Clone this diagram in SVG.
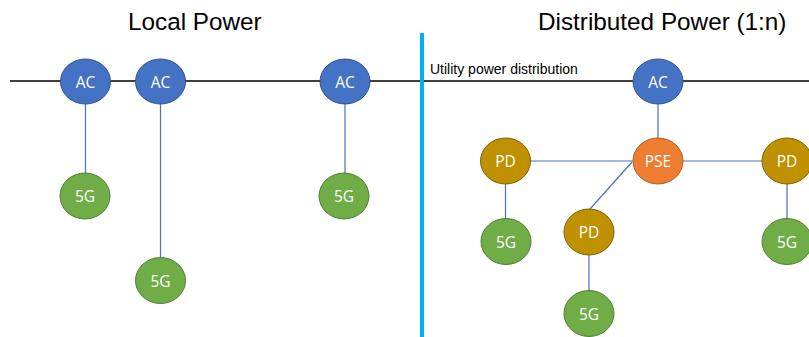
<svg xmlns="http://www.w3.org/2000/svg" width="809" height="337" viewBox="0 0 809 337">
<style>
.title{font-family:"Liberation Sans",Arial,sans-serif;font-size:24.3px;fill:#000}
.lbl{font-family:"Liberation Sans",Arial,sans-serif;font-size:14px;fill:#000}
.nt{font-family:"Open Sans","Noto Sans",sans-serif;font-size:15.5px;fill:#fff;text-anchor:middle;dominant-baseline:central}
.ac{fill:#4472c4;stroke:#2f528f;stroke-width:1}
.g5{fill:#70ad47;stroke:#507e32;stroke-width:1}
.pd{fill:#bf9000;stroke:#7f6000;stroke-width:1}
.pse{fill:#ed7d31;stroke:#ae5a21;stroke-width:1}
.c{stroke:#4472c4;stroke-width:1.2;fill:none}
</style>
<rect width="809" height="337" fill="#fff"/>
<text class="title" x="128" y="29.5">Local Power</text>
<text class="title" x="538" y="29.5">Distributed Power (1:n)</text>
<line x1="10" y1="81" x2="809" y2="81" stroke="#000" stroke-width="1.5"/>
<line x1="422" y1="33" x2="422" y2="337" stroke="#00b0f0" stroke-width="4"/>
<text class="lbl" x="430" y="73.5">Utility power distribution</text>
<g id="connectors">
<line class="c" x1="85.5" y1="104" x2="85.5" y2="173"/>
<line class="c" x1="160.5" y1="104" x2="160.5" y2="258"/>
<line class="c" x1="345" y1="104" x2="345" y2="173"/>
<line class="c" x1="658" y1="104" x2="658" y2="138"/>
<line class="c" x1="530" y1="161" x2="633" y2="161"/>
<line class="c" x1="683" y1="161" x2="762" y2="161"/>
<line class="c" x1="632" y1="162" x2="590" y2="209"/>
<line class="c" x1="505.5" y1="184" x2="505.5" y2="219"/>
<line class="c" x1="589" y1="255" x2="589" y2="291"/>
<line class="c" x1="787" y1="184" x2="787" y2="219"/>
</g>
<g id="ac1"><ellipse class="ac" cx="85.5" cy="81.5" rx="25" ry="22.5"/><text class="nt" x="85.5" y="81.5">AC</text></g>
<g id="ac2"><ellipse class="ac" cx="160.5" cy="81.5" rx="25" ry="22.5"/><text class="nt" x="160.5" y="81.5">AC</text></g>
<g id="ac3"><ellipse class="ac" cx="345" cy="81.5" rx="25" ry="22.5"/><text class="nt" x="345" y="81.5">AC</text></g>
<g id="ac4"><ellipse class="ac" cx="658" cy="81.5" rx="25" ry="22.5"/><text class="nt" x="658" y="81.5">AC</text></g>
<g id="g5a"><ellipse class="g5" cx="85" cy="196" rx="25" ry="23"/><text class="nt" x="85" y="196">5G</text></g>
<g id="g5b"><ellipse class="g5" cx="160.5" cy="280.5" rx="25" ry="23"/><text class="nt" x="160.5" y="280.5">5G</text></g>
<g id="g5c"><ellipse class="g5" cx="344" cy="196" rx="25" ry="23"/><text class="nt" x="344" y="196">5G</text></g>
<g id="pse"><ellipse class="pse" cx="658" cy="161" rx="25" ry="23"/><text class="nt" x="658" y="161">PSE</text></g>
<g id="pd1"><ellipse class="pd" cx="505.5" cy="161" rx="25" ry="23"/><text class="nt" x="505.5" y="161">PD</text></g>
<g id="pd2"><ellipse class="pd" cx="589" cy="232" rx="25" ry="23"/><text class="nt" x="589" y="232">PD</text></g>
<g id="pd3"><ellipse class="pd" cx="787" cy="161" rx="25" ry="23"/><text class="nt" x="787" y="161">PD</text></g>
<g id="g5d"><ellipse class="g5" cx="506" cy="241.5" rx="25" ry="23"/><text class="nt" x="506" y="241.5">5G</text></g>
<g id="g5e"><ellipse class="g5" cx="589" cy="313.5" rx="25" ry="23"/><text class="nt" x="589" y="313.5">5G</text></g>
<g id="g5f"><ellipse class="g5" cx="787" cy="241.5" rx="25" ry="23"/><text class="nt" x="787" y="241.5">5G</text></g>
</svg>
